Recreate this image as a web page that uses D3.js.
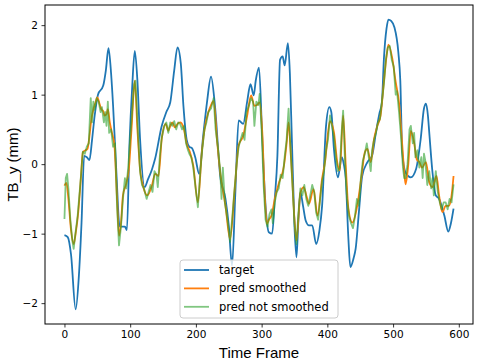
<!DOCTYPE html>
<html>
<head>
<meta charset="utf-8">
<script src="https://cdn.jsdelivr.net/npm/d3@7"></script>
<style>
  body { margin: 0; background: #fff; }
  svg { display: block; }
</style>
</head>
<body>
<div id="wrapper"></div>
<script>
// Values (frame, value pairs per series)
const targetFrames = [0, 5, 10, 17, 22, 26, 30, 34, 38, 42, 46, 51, 59, 63, 67, 71, 74, 79, 84, 88, 92, 95, 99, 103, 107, 111, 115, 122, 127, 133, 138, 148, 155, 161, 167, 172, 177, 181, 186, 190, 194, 199, 205, 211, 217, 223, 229, 237, 245, 250, 255, 260, 265, 272, 278, 283, 288, 291, 296, 301, 306, 311, 316, 320, 324, 328, 332, 335, 340, 343, 346, 350, 353, 356, 359, 363, 367, 372, 377, 383, 388, 392, 398, 403, 406, 410, 416, 422, 425, 428, 432, 435, 440, 443, 448, 453, 461, 468, 474, 479, 483, 486, 490, 493, 497, 502, 508, 511, 514, 519, 527, 535, 542, 547, 550, 553, 555, 560, 565, 570, 578, 584, 588, 592]
const targetValues = [-1.02, -1.05, -1.3, -2.09, -1.6, -0.84, 0.12, 0.1, 0.06, 0.35, 0.7, 1.0, 1.13, 1.35, 1.67, 1.3, 0.84, -0.12, -0.9, -0.9, -0.9, -0.95, 0.3, 1.1, 1.63, 1.2, 0.37, -0.33, -0.22, -0.08, 0.08, 0.55, 0.75, 0.89, 1.35, 1.68, 1.45, 0.84, 0.35, 0.25, 0.23, 0.1, -0.14, 0.4, 0.9, 1.26, 0.84, -0.17, -0.5, -0.88, -1.46, -0.41, 0.63, 0.58, 0.9, 1.15, 0.99, 1.2, 1.39, 0.36, -0.6, -0.98, -1.0, -0.5, 0.12, 1.5, 1.55, 1.42, 1.74, 1.3, 0.36, -0.9, -1.34, -0.8, -0.41, -0.6, -0.81, -0.88, -0.88, -1.15, -0.95, -0.6, 0.55, 0.82, 0.75, 0.22, -0.19, 0.1, 0.0, -0.21, -1.07, -1.48, -1.35, -1.22, -0.69, -0.17, 0.03, 0.12, 0.46, 0.72, 0.89, 1.51, 1.95, 2.08, 2.06, 1.97, 1.61, 1.2, 0.17, -0.12, -0.19, -0.07, 0.36, 0.8, 0.87, 0.7, 0.46, -0.12, -0.45, -0.5, -0.74, -0.97, -0.85, -0.64]

const smoothFrames = [0, 3, 6, 10, 14, 17, 21, 25, 28, 32, 35, 38, 41, 44, 47, 50, 53, 56, 59, 61, 64, 66, 69, 72, 76, 80, 83, 86, 89, 94, 98, 102, 107, 111, 115, 120, 126, 133, 138, 143, 148, 154, 158, 161, 164, 168, 172, 176, 181, 186, 191, 196, 203, 209, 214, 219, 223, 227, 232, 237, 245, 252, 259, 265, 272, 278, 284, 289, 293, 297, 301, 305, 308, 311, 315, 320, 326, 334, 338, 341, 344, 346, 350, 353, 359, 364, 368, 372, 379, 385, 392, 397, 401, 404, 410, 415, 419, 424, 428, 432, 438, 446, 452, 457, 461, 466, 471, 476, 481, 486, 490, 493, 499, 504, 509, 514, 517, 519, 523, 527, 532, 536, 540, 544, 550, 555, 560, 566, 570, 575, 580, 585, 589, 592]
const smoothValues = [-0.31, -0.27, -0.5, -0.95, -1.15, -1.0, -0.69, -0.2, 0.17, 0.2, 0.22, 0.4, 0.65, 0.79, 0.88, 0.96, 0.88, 0.79, 0.76, 0.7, 0.72, 0.79, 0.6, 0.46, 0.27, -0.5, -1.03, -0.85, -0.45, -0.28, -0.07, 0.5, 1.2, 0.5, -0.07, -0.33, -0.45, -0.31, -0.14, -0.17, 0.36, 0.58, 0.48, 0.55, 0.6, 0.53, 0.58, 0.6, 0.53, 0.29, 0.17, -0.02, -0.55, 0.17, 0.55, 0.75, 0.85, 0.91, 0.36, -0.12, -0.6, -1.08, -0.36, 0.27, 0.41, 0.7, 0.99, 0.84, 0.85, 0.89, 0.46, -0.5, -0.86, -0.8, -0.74, -0.5, -0.28, -0.02, 0.3, 0.6, 0.2, -0.12, -0.8, -1.1, -0.41, -0.33, -0.45, -0.57, -0.36, -0.74, -0.21, 0.07, 0.45, 0.62, 0.46, 0.03, -0.09, 0.7, -0.02, -0.64, -0.84, -0.57, -0.17, 0.17, 0.22, 0.03, 0.36, 0.55, 0.7, 1.18, 1.55, 1.72, 1.51, 1.18, 0.89, 0.27, -0.12, -0.29, -0.02, 0.48, 0.31, 0.07, 0.03, -0.05, 0.03, -0.26, -0.33, -0.17, -0.45, -0.69, -0.6, -0.6, -0.45, -0.17]

const rawFrames = [0, 2, 4, 6, 9, 12, 14, 16, 20, 24, 28, 31, 34, 37, 40, 42, 44, 46, 49, 52, 55, 57, 60, 62, 64, 66, 68, 71, 74, 77, 80, 83, 86, 89, 92, 94, 97, 101, 106, 108, 112, 115, 118, 121, 125, 128, 131, 134, 137, 140, 142, 145, 148, 152, 155, 158, 161, 164, 167, 170, 173, 176, 179, 182, 185, 188, 190, 193, 196, 199, 203, 206, 209, 213, 216, 219, 223, 227, 230, 234, 237, 239, 241, 244, 248, 252, 255, 258, 262, 265, 268, 271, 274, 277, 281, 284, 287, 289, 292, 295, 297, 300, 303, 306, 309, 312, 315, 317, 320, 323, 326, 329, 332, 335, 338, 341, 343, 346, 350, 353, 356, 359, 362, 365, 368, 371, 374, 377, 380, 383, 386, 389, 392, 395, 398, 401, 404, 407, 410, 413, 416, 419, 422, 424, 427, 430, 433, 436, 439, 442, 445, 448, 451, 454, 457, 460, 463, 466, 468, 471, 474, 477, 480, 483, 486, 489, 492, 495, 498, 501, 504, 506, 509, 512, 515, 517, 519, 522, 525, 527, 530, 532, 534, 537, 540, 543, 545, 547, 549, 552, 555, 558, 560, 562, 565, 568, 571, 574, 577, 580, 583, 586, 589, 592]
const rawValues = [-0.79, -0.2, -0.14, -0.35, -0.8, -1.1, -1.22, -1.05, -0.75, -0.3, 0.18, 0.15, 0.25, 0.3, 0.95, 0.6, 0.9, 0.78, 0.95, 0.9, 0.75, 0.82, 0.6, 0.75, 0.55, 0.9, 0.45, 0.5, 0.25, 0.3, -0.6, -1.17, -0.9, -0.5, -0.2, -0.35, -0.05, 0.5, 1.15, 1.2, 0.45, -0.1, -0.3, -0.35, -0.5, -0.4, -0.3, -0.4, -0.1, -0.15, -0.33, 0.1, 0.38, 0.55, 0.6, 0.45, 0.6, 0.55, 0.62, 0.5, 0.6, 0.58, 0.5, 0.55, 0.3, 0.2, 0.15, 0.1, -0.05, -0.3, -0.62, -0.2, 0.15, 0.5, 0.6, 0.75, 0.8, 0.95, 0.5, 0.2, -0.1, -0.5, -0.05, -0.55, -0.8, -1.12, -0.8, -0.45, 0.0, 0.25, 0.35, 0.45, 0.35, 0.75, 0.85, 0.95, 0.9, 0.55, 0.9, 0.85, 1.01, 0.5, -0.3, -0.8, -0.9, -0.72, -0.65, -0.85, -0.55, -0.4, -0.35, -0.15, -0.2, 0.1, 0.35, 0.8, 0.4, -0.15, -0.85, -1.15, -0.7, -0.35, -0.45, -0.3, -0.5, -0.6, -0.45, -0.3, -0.4, -0.7, -0.8, -0.5, -0.25, -0.1, 0.2, 0.35, 0.7, 0.55, 0.4, 0.1, -0.1, -0.05, 0.5, 0.77, 0.0, -0.5, -0.75, -0.85, -0.92, -0.75, -0.5, -0.6, -0.2, 0.05, 0.15, 0.3, 0.1, -0.1, 0.2, 0.35, 0.45, 0.6, 0.65, 0.9, 1.15, 1.5, 1.68, 1.7, 1.5, 1.4, 1.0, 1.05, 0.75, 0.4, -0.05, -0.2, -0.2, 0.0, 0.5, 0.55, 0.3, 0.45, 0.1, 0.2, -0.05, 0.1, -0.2, 0.15, 0.05, -0.3, -0.1, -0.35, -0.2, -0.45, -0.1, -0.4, -0.55, -0.65, -0.55, -0.55, -0.65, -0.5, -0.55, -0.29]

const xTicks = [0, 100, 200, 300, 400, 500, 600]
const yTicks = [-2, -1, 0, 1, 2]
const seriesNames = ["target", "pred smoothed", "pred not smoothed"]
const seriesColors = ["#1f77b4", "#ff7f0e", "#2ca02c"]

let dimensions = {
  width: 479,
  height: 363,
  margin: { top: 5, right: 6, bottom: 39, left: 45 }
}
dimensions.boundedWidth = dimensions.width - dimensions.margin.left - dimensions.margin.right
dimensions.boundedHeight = dimensions.height - dimensions.margin.top - dimensions.margin.bottom

const toPoints = (frames, values) => frames.map((f, i) => ({ x: f, y: values[i] }))
const series = [
  toPoints(targetFrames, targetValues),
  toPoints(smoothFrames, smoothValues),
  toPoints(rawFrames, rawValues)
]

const wrapper = d3.select("#wrapper").append("svg")
  .attr("width", dimensions.width)
  .attr("height", dimensions.height)
const bounds = wrapper.append("g")
  .attr("transform", `translate(${dimensions.margin.left},${dimensions.margin.top})`)

// matplotlib style 5% padding around the data range
const xScale = d3.scaleLinear().domain([-29.6, 621.6]).range([0, dimensions.boundedWidth])
const yScale = d3.scaleLinear().domain([-2.3, 2.29]).range([dimensions.boundedHeight, 0])

const curves = [d3.curveMonotoneX, d3.curveMonotoneX, d3.curveLinear]
const opacities = [1, 1, 0.6]

series.forEach((pts, i) => {
  const lineGen = d3.line()
    .x(d => xScale(d.x))
    .y(d => yScale(d.y))
    .curve(curves[i])
  bounds.append("path")
    .attr("d", lineGen(pts))
    .attr("fill", "none")
    .attr("stroke", seriesColors[i])
    .attr("stroke-opacity", opacities[i])
    .attr("stroke-width", 1.8)
    .attr("stroke-linejoin", "round")
})

// Axes
const fmt = d => d < 0 ? "\u2212" + Math.abs(d) : "" + d
const xAxis = bounds.append("g")
  .attr("transform", `translate(0,${dimensions.boundedHeight})`)
  .call(d3.axisBottom(xScale).tickValues(xTicks).tickFormat(fmt).tickSizeOuter(0).tickSize(3.5).tickPadding(3.5))
const yAxis = bounds.append("g")
  .call(d3.axisLeft(yScale).tickValues(yTicks).tickFormat(fmt).tickSizeOuter(0).tickSize(3.5).tickPadding(3.5))

;[xAxis, yAxis].forEach(ax => {
  ax.select(".domain").remove()
  ax.selectAll("text").attr("fill", "#000").style("font-family", "DejaVu Sans").style("font-size", "10.5px")
  ax.selectAll("line").attr("stroke", "#000").attr("stroke-width", 0.8)
})

// frame
bounds.append("rect")
  .attr("width", dimensions.boundedWidth)
  .attr("height", dimensions.boundedHeight)
  .attr("fill", "none")
  .attr("stroke", "#000")
  .attr("stroke-width", 1)

// Axis labels
wrapper.append("text")
  .attr("x", dimensions.margin.left + dimensions.boundedWidth / 2)
  .attr("y", 358)
  .attr("text-anchor", "middle")
  .style("font-family", "Liberation Sans")
  .style("font-size", "15px")
  .text("Time Frame")

wrapper.append("text")
  .attr("transform", `translate(18,${dimensions.margin.top + dimensions.boundedHeight / 2}) rotate(-90)`)
  .attr("text-anchor", "middle")
  .style("font-family", "Liberation Sans")
  .style("font-size", "15px")
  .text("TB_y (mm)")

// Legend
const legend = wrapper.append("g").attr("transform", "translate(180,260)")
legend.append("rect")
  .attr("width", 158)
  .attr("height", 58)
  .attr("rx", 3)
  .attr("fill", "#fff")
  .attr("fill-opacity", 0.8)
  .attr("stroke", "#cccccc")
  .attr("stroke-width", 1)

seriesNames.forEach((name, i) => {
  const y = 10 + i * 18.4
  legend.append("line")
    .attr("x1", 4).attr("x2", 29)
    .attr("y1", y).attr("y2", y)
    .attr("stroke", seriesColors[i])
    .attr("stroke-opacity", opacities[i])
    .attr("stroke-width", 1.8)
  legend.append("text")
    .attr("x", 39)
    .attr("y", y)
    .attr("dy", "0.35em")
    .style("font-family", "DejaVu Sans")
    .style("font-size", "11.5px")
    .text(name)
})
</script>
</body>
</html>
